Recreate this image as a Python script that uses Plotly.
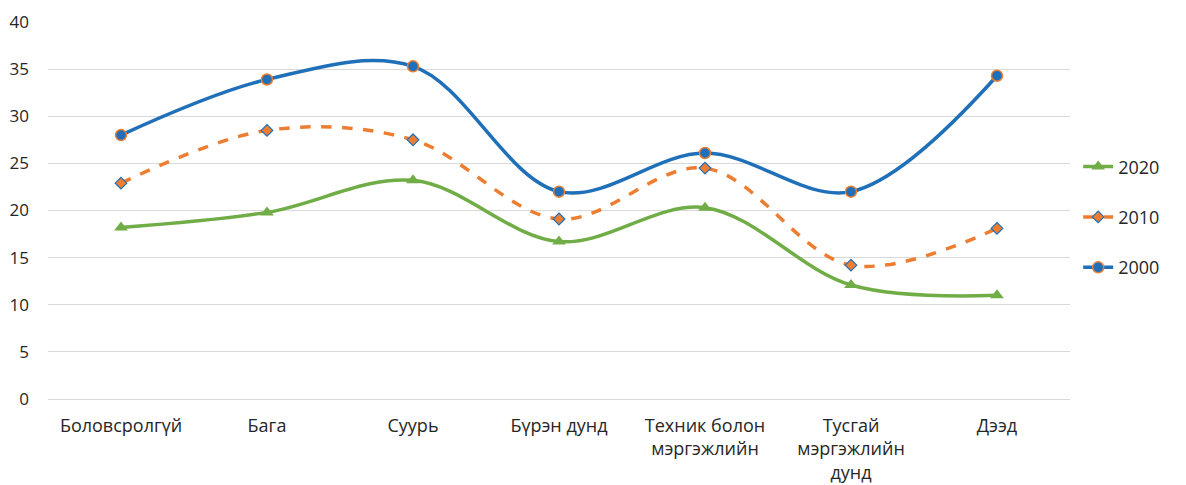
import plotly.graph_objects as go

categories = ["Боловсролгүй", "Бага", "Суурь", "Бүрэн дунд",
              "Техник болон<br>мэргэжлийн", "Тусгай<br>мэргэжлийн<br>дунд", "Дээд"]
y2000 = [28.0, 33.9, 35.3, 22.0, 26.1, 22.0, 34.3]
y2010 = [22.9, 28.5, 27.5, 19.1, 24.5, 14.2, 18.1]
y2020 = [18.2, 19.8, 23.2, 16.7, 20.3, 12.1, 11.0]

BLUE = "#1F70B8"
ORANGE = "#ED7D31"
GREEN = "#70AD47"

fig = go.Figure()
fig.add_trace(go.Scatter(
    x=categories, y=y2020, name="2020", mode="lines+markers", legendgroup="a",
    line=dict(color=GREEN, width=3.5, shape="spline", smoothing=1.0),
    marker=dict(symbol="triangle-up", size=12, color=GREEN)))
fig.add_trace(go.Scatter(
    x=categories, y=y2010, name="2010", mode="lines+markers", legendgroup="b",
    line=dict(color=ORANGE, width=3.5, dash="dash", shape="spline", smoothing=1.0),
    marker=dict(symbol="diamond", size=9, color=ORANGE, line=dict(color=BLUE, width=1.2))))
fig.add_trace(go.Scatter(
    x=categories, y=y2000, name="2000", mode="lines+markers", legendgroup="c",
    line=dict(color=BLUE, width=3.5, shape="spline", smoothing=1.0),
    marker=dict(symbol="circle", size=11, color=BLUE, line=dict(color=ORANGE, width=1.5))))

fig.update_layout(
    width=1186, height=485,
    margin=dict(l=40, r=124, t=14, b=94),
    paper_bgcolor="white", plot_bgcolor="white",
    font=dict(family="Open Sans, Noto Sans, sans-serif", size=18, color="#262626"),
    legend=dict(x=1.008, y=0.665, xanchor="left", yanchor="top",
                tracegroupgap=24, font=dict(size=18, color="#262626"),
                bgcolor="rgba(0,0,0,0)"),
    showlegend=True,
)
fig.update_xaxes(showgrid=False, showline=False, ticks="", tickfont=dict(size=18),
                 range=[-0.5, 6.5], ticklabelstandoff=14, automargin=False)
fig.update_yaxes(range=[0, 40], dtick=5, showgrid=True, gridcolor="#D9D9D9",
                 gridwidth=1, zeroline=True, zerolinecolor="#D9D9D9", zerolinewidth=1,
                 showline=False, ticks="", ticklabelstandoff=18, tickfont=dict(size=17),
                 automargin=False)

fig.write_html("out.html")
